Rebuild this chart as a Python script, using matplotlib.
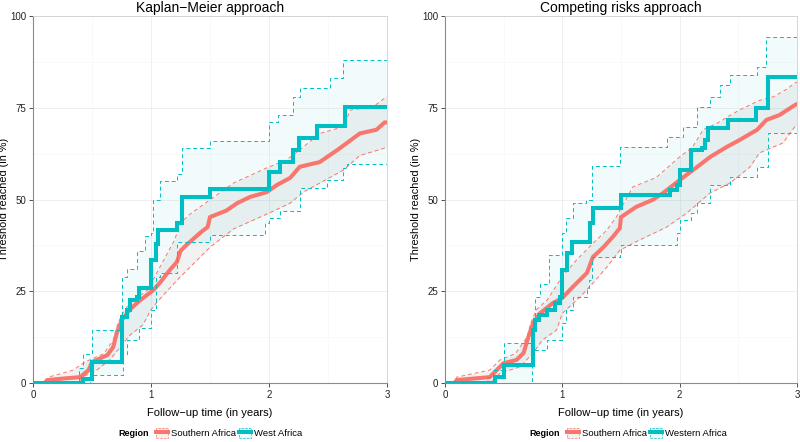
import numpy as np
import matplotlib.pyplot as plt
from matplotlib.patches import Patch
from matplotlib.lines import Line2D

plt.rcParams['font.family'] = ['Liberation Sans', 'DejaVu Sans']

# Farby skupin (ggplot)
red = '#F8766D'
cyan = '#00BFC4'

# ---- Kaplan-Meier: Southern Africa (many tiny steps -> read as vertices)
km_sa_t = [0, 0.1, 0.12, 0.25, 0.4, 0.47, 0.5, 0.63, 0.68, 0.71, 0.75, 0.82, 0.91, 1.02, 1.08, 1.16, 1.22, 1.25, 1.3,
           1.42, 1.48, 1.5, 1.64, 1.73, 1.84, 1.98, 2.07, 2.18, 2.26, 2.43, 2.58, 2.66, 2.77, 2.91, 2.98, 3.0]
km_sa_est = [0, 0, 0.8, 1.2, 1.6, 3.5, 5.7, 7.6, 9.8, 13.6, 17, 20, 22.6, 25.3, 27.5, 30.8, 33, 36, 37.6,
             41, 42.5, 45.2, 47, 49, 50.7, 52, 54, 55.9, 58.9, 60.2, 63.5, 65.4, 68, 69, 71, 71]
km_sa_up_t = [0, 0.1, 0.13, 0.34, 0.44, 0.6, 0.68, 0.72, 0.76, 0.82, 0.97, 1.1, 1.2, 1.25, 1.33, 1.5, 1.7, 1.98,
              2.15, 2.26, 2.43, 2.63, 2.69, 2.88, 2.98, 3.0]
km_sa_up = [0, 0, 1.6, 3.5, 5.7, 8, 11.7, 16.3, 19, 21.8, 25.3, 33, 39, 43.6, 46, 49.9, 54.5, 58.6,
            60.8, 63.5, 68, 69.8, 74.4, 75.2, 77.6, 78]
km_sa_lo_t = [0, 0.38, 0.42, 0.54, 0.65, 0.74, 0.82, 0.93, 1.0, 1.05, 1.22, 1.5, 1.7, 1.98, 2.18, 2.29, 2.63,
              2.77, 2.98, 3.0]
km_sa_lo = [0, 0, 1.6, 3.5, 6.3, 9.8, 13, 15.8, 20, 22, 28, 37, 42, 46, 49, 52, 58, 62, 64, 64]

# ---- Kaplan-Meier: West Africa (jump times)
km_wa_t = [0, 0.42, 0.5, 0.75, 0.8, 0.82, 0.88, 0.9, 1.0, 1.04, 1.06, 1.22, 1.26, 1.5, 2.0, 2.09, 2.2,
           2.25, 2.41, 2.64]
km_wa_est = [0, 1, 5.7, 18, 20, 22.6, 23.4, 26, 33.5, 38, 41.7, 43.6, 50.7, 52.8, 57.6, 60.3, 63.5,
             66.7, 70, 75.1]
km_wa_up_t = [0, 0.39, 0.42, 0.5, 0.75, 0.8, 0.88, 0.95, 1.0, 1.02, 1.08, 1.22, 1.26, 1.5, 1.95, 2.0,
              2.08, 2.2, 2.26, 2.52, 2.63]
km_wa_up = [0, 4, 8, 14.5, 29, 31, 36, 40, 41, 50, 55, 57, 64, 66, 66, 71, 73, 78, 80.5, 83, 88]
km_wa_lo_t = [0, 0.48, 0.76, 0.8, 0.9, 1.0, 1.04, 1.08, 1.22, 1.5, 1.97, 2.0, 2.09, 2.26, 2.49, 2.63, 2.66]
km_wa_lo = [0, 2.2, 8, 11.7, 15, 20, 29, 30, 38.4, 40.3, 43.6, 45, 47, 53, 55.3, 58.6, 59.7]

# ---- Competing risks: Southern Africa (vertices)
cr_sa_t = [0, 0.08, 0.1, 0.38, 0.44, 0.5, 0.61, 0.67, 0.71, 0.75, 0.81, 0.92, 1.0, 1.09, 1.21, 1.26, 1.35, 1.43,
           1.49, 1.5, 1.63, 1.77, 1.86, 2.0, 2.15, 2.26, 2.4, 2.51, 2.66, 2.74, 2.85, 2.98, 3.0]
cr_sa_est = [0, 0, 0.8, 1.6, 3.5, 5.4, 6.3, 8.2, 12.5, 16.3, 19, 21.8, 23.2, 26.2, 30, 34.3, 37, 39.8,
             42.2, 45.2, 48, 49.9, 51.8, 55.3, 58.9, 61.6, 64.3, 66.2, 69, 71.7, 73, 75.7, 76]
cr_sa_up_t = [0, 0.08, 0.1, 0.38, 0.47, 0.6, 0.7, 0.73, 0.78, 0.87, 1.0, 1.12, 1.26, 1.38, 1.46, 1.6, 1.8, 2.0,
              2.11, 2.2, 2.32, 2.51, 2.68, 2.8, 2.91, 2.98, 3.0]
cr_sa_up = [0, 0, 1.6, 3.5, 6.3, 8, 12.5, 16.3, 20, 22.6, 29, 33.5, 38, 41.7, 45.2, 53.4, 56, 61.6,
            64.3, 69, 70.8, 74.4, 77, 78, 80, 81.7, 82]
cr_sa_lo_t = [0, 0.4, 0.47, 0.64, 0.75, 0.83, 0.95, 1.0, 1.15, 1.26, 1.38, 1.49, 1.66, 1.89, 2.06, 2.26,
              2.43, 2.6, 2.68, 2.88, 2.98, 3.0]
cr_sa_lo = [0, 0.5, 2.7, 4.4, 8.2, 11.7, 14.4, 19, 23.4, 27.2, 31.6, 36.2, 39, 42.5, 46.3, 51.8,
            54.5, 58.9, 62.7, 65.4, 69.8, 70]

# ---- Competing risks: Western Africa (jump times)
cr_wa_t = [0, 0.43, 0.5, 0.75, 0.77, 0.8, 0.87, 0.94, 0.98, 1.0, 1.04, 1.08, 1.24, 1.26, 1.5, 1.92, 1.98,
           2.0, 2.1, 2.19, 2.22, 2.24, 2.41, 2.65, 2.75]
cr_wa_est = [0, 1.6, 4.9, 14.4, 17.2, 18.5, 19.9, 21.8, 23.4, 30.8, 35.4, 38.4, 43.6, 47.7, 51.2, 52.6, 54,
             58, 63.5, 64, 66.2, 69.5, 71.7, 75, 83.4]
cr_wa_up_t = [0, 0.36, 0.41, 0.5, 0.75, 0.77, 0.81, 0.89, 1.0, 1.03, 1.09, 1.2, 1.25, 1.49, 1.89, 1.95,
              2.03, 2.15, 2.26, 2.34, 2.43, 2.66, 2.74]
cr_wa_up = [0, 1.6, 3.5, 10.9, 18, 23.4, 27, 35, 41, 45, 49, 50, 59, 64.3, 67, 67, 69.8, 75.2, 78,
            81.2, 84, 86, 94.3]
cr_wa_lo_t = [0, 0.74, 0.76, 0.87, 1.0, 1.03, 1.09, 1.21, 1.23, 1.25, 1.49, 1.5, 1.86, 1.98, 2.0, 2.1,
              2.15, 2.26, 2.43, 2.66, 2.75]
cr_wa_lo = [0, 5.7, 9, 11.7, 16.3, 20, 23.4, 26, 28, 34.3, 35, 37.6, 37.6, 41, 44.4, 46.3, 49, 54,
            56, 58.9, 68]

t_max = 3.0


def step_at(t, v, grid):
    idx = np.searchsorted(t, grid, side='right') - 1
    return np.asarray(v)[idx]


def draw_group(ax, t, est, up_t, up, lo_t, lo, color, fill, alpha, steps):
    dash = dict(color=color, lw=0.7, ls=(0, (4, 3)))
    if steps:
        grid = np.unique(np.concatenate([up_t, lo_t, [t_max]]))
        ax.fill_between(grid, step_at(lo_t, lo, grid), step_at(up_t, up, grid),
                        step='post', color=fill, alpha=alpha, lw=0)
        for bt, bv in [(up_t, up), (lo_t, lo)]:
            ax.step(list(bt) + [t_max], list(bv) + [bv[-1]], where='post', **dash)
        ax.step(list(t) + [t_max], list(est) + [est[-1]], where='post',
                color=color, lw=2.9, solid_joinstyle='miter')
    else:
        grid = np.unique(np.concatenate([up_t, lo_t]))
        ax.fill_between(grid, np.interp(grid, lo_t, lo), np.interp(grid, up_t, up),
                        color=fill, alpha=alpha, lw=0)
        ax.plot(up_t, up, **dash)
        ax.plot(lo_t, lo, **dash)
        ax.plot(t, est, color=color, lw=2.9, solid_joinstyle='miter')


fig = plt.figure(figsize=(8, 4.42), dpi=100)

panels = [
    ([33, 387], 'Kaplan\u2212Meier approach', 'West Africa',
     (km_sa_t, km_sa_est, km_sa_up_t, km_sa_up, km_sa_lo_t, km_sa_lo),
     (km_wa_t, km_wa_est, km_wa_up_t, km_wa_up, km_wa_lo_t, km_wa_lo)),
    ([445, 797], 'Competing risks approach', 'Western Africa',
     (cr_sa_t, cr_sa_est, cr_sa_up_t, cr_sa_up, cr_sa_lo_t, cr_sa_lo),
     (cr_wa_t, cr_wa_est, cr_wa_up_t, cr_wa_up, cr_wa_lo_t, cr_wa_lo)),
]

for (x0, x1), title, wa_name, sa, wa in panels:
    w = x1 - x0
    ax = fig.add_axes([x0 / 800, 1 - 383 / 442, w / 800, (383 - 16) / 442])
    ax.set_xlim(0, 3)
    ax.set_ylim(0, 100)
    ax.set_xticks([0, 1, 2, 3])
    ax.set_yticks([0, 25, 50, 75, 100])
    ax.set_xticks([0.5, 1.5, 2.5], minor=True)
    ax.set_yticks([12.5, 37.5, 62.5, 87.5], minor=True)
    ax.grid(True, which='major', color='#ececec', lw=0.6)
    ax.grid(True, which='minor', color='#f5f5f5', lw=0.4)
    ax.set_axisbelow(True)
    ax.tick_params(which='minor', length=0)
    ax.tick_params(which='major', length=3, width=0.6, color='#333333',
                   labelsize=7, labelcolor='#222222', pad=2)
    for s in ['top', 'right']:
        ax.spines[s].set_color('#d0d0d0')
        ax.spines[s].set_linewidth(0.6)
    for s in ['left', 'bottom']:
        ax.spines[s].set_color('#8a8a8a')
        ax.spines[s].set_linewidth(0.8)

    draw_group(ax, *sa, red, 'grey', 0.1, False)
    draw_group(ax, *wa, cyan, cyan, 0.05, True)

    ax.set_title(title, fontsize=10, pad=3)
    ax.set_xlabel('Follow\u2212up time (in years)', fontsize=8, labelpad=6)
    ax.set_ylabel('Threshold reached (in %)', fontsize=7.8)
    ax.yaxis.set_label_coords(-24 / w, 0.5)

    # legenda pod panelem
    cx = (x0 + x1) / 2
    handles = []
    for c, fc, a in [(red, 'grey', 0.1), (cyan, cyan, 0.05)]:
        box = Patch(facecolor=fc, alpha=a, edgecolor='none')
        edge = Patch(facecolor='none', edgecolor=c, lw=0.5, ls='--')
        ln = Line2D([], [], color=c, lw=2.9)
        handles.append((box, edge, ln))
    fig.text((cx - 92) / 800, 1 - 433 / 442, 'Region', fontsize=6.5, fontweight='bold',
             va='center', ha='left')
    fig.legend(handles, ['Southern Africa', wa_name], loc='center left',
               bbox_to_anchor=((cx - 54) / 800, 1 - 433 / 442), ncol=2, frameon=False,
               fontsize=6.8, handlelength=1.3, handleheight=1.3, handletextpad=0.3,
               columnspacing=0.3, borderpad=0, borderaxespad=0)

fig.savefig('out.png', dpi=100)
